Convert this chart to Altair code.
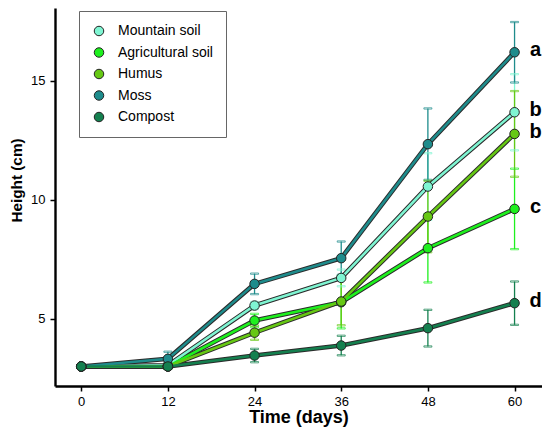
import altair as alt
import pandas as pd

days = [0, 12, 24, 36, 48, 60]
names = ["Mountain soil", "Agricultural soil", "Humus", "Moss", "Compost"]
colors = ["#7ff5d2", "#1ef01e", "#66c814", "#1e8c8c", "#14804f"]

mountain = [3.0, 3.05, 5.56, 6.72, 10.56, 13.68]
agri = [3.0, 3.0, 4.93, 5.70, 7.97, 9.62]
humus = [3.0, 3.0, 4.42, 5.73, 9.30, 12.77]
moss = [3.0, 3.32, 6.47, 7.55, 12.34, 16.2]
compost = [3.0, 3.0, 3.46, 3.88, 4.61, 5.66]

mountain_err = [0, 0.1, 0.15, 0.35, 1.4, 1.6]
agri_err = [0, 0.1, 0.28, 1.1, 1.44, 1.69]
humus_err = [0, 0.1, 0.3, 1.0, 1.5, 1.8]
moss_err = [0, 0.3, 0.43, 0.7, 1.5, 1.27]
compost_err = [0, 0.1, 0.28, 0.41, 0.77, 0.91]

letters = ["b", "c", "b", "a", "d"]

series = [mountain, agri, humus, moss, compost]
errs = [mountain_err, agri_err, humus_err, moss_err, compost_err]

rows = []
for i, (n, vals, es) in enumerate(zip(names, series, errs)):
    for d, v, e in zip(days, vals, es):
        rows.append({"series": n, "grp": n, "order": i, "day": d, "height": v,
                     "lo": v - e, "hi": v + e, "err": e})
df = pd.DataFrame(rows)

lab = pd.DataFrame({"series": names, "day": [days[-1]] * 5,
                    "height": [s[-1] for s in series], "letter": letters})

FONT = "Liberation Sans"

x = alt.X("day:Q",
          scale=alt.Scale(domain=[-3.63, 63.8], nice=False, zero=False),
          axis=alt.Axis(values=days, title="Time (days)", format="d",
                        titleFontSize=18, labelPadding=4, titlePadding=0))
y = alt.Y("height:Q",
          scale=alt.Scale(domain=[2.18, 18.06], nice=False, zero=False),
          axis=alt.Axis(values=[5, 10, 15], title="Height (cm)",
                        titleFontSize=15.3, titleX=-31, titleY=172, labelPadding=5))

# stroke scale uses the same mapping, listed in reverse so it is kept apart from the legend scale
stroke_enc = alt.Stroke("grp:N",
                        scale=alt.Scale(domain=names[::-1], range=colors[::-1]),
                        legend=None)

base = alt.Chart(df)
errd = base.transform_filter("datum.err > 0")

err_rule = errd.mark_rule(strokeWidth=1.3).encode(
    x=x, y=alt.Y("lo:Q"), y2="hi:Q", stroke=stroke_enc)
cap_lo = errd.mark_tick(orient="horizontal", size=8, thickness=1.3, filled=False).encode(
    x=x, y=alt.Y("lo:Q"), stroke=stroke_enc)
cap_hi = errd.mark_tick(orient="horizontal", size=8, thickness=1.3, filled=False).encode(
    x=x, y=alt.Y("hi:Q"), stroke=stroke_enc)

outline = base.mark_line(color="#2a2a2a", strokeWidth=4.6).encode(
    x=x, y=y, detail="grp:N", order="day:Q")
core = base.mark_line(strokeWidth=2.6).encode(
    x=x, y=y, stroke=stroke_enc, order="day:Q")

pts = base.mark_point(shape="circle", filled=True, size=90, stroke="#222222",
                      strokeWidth=1, opacity=1).encode(
    x=x, y=y,
    color=alt.Color("series:N", scale=alt.Scale(domain=names, range=colors),
                    legend=alt.Legend(title=None, orient="none", legendX=24, legendY=3,
                                      padding=13, strokeColor="#666666", fillColor="white",
                                      symbolType="circle", symbolSize=90,
                                      symbolStrokeColor="#222222", symbolStrokeWidth=1,
                                      labelFontSize=14, labelFont=FONT, labelColor="black",
                                      labelOffset=12, rowPadding=7.5)))

txt = alt.Chart(lab).mark_text(dx=21, dy=-2, fontSize=20, fontWeight="bold",
                               font=FONT, color="black", align="center",
                               baseline="middle").encode(
    x=x, y=y, text="letter:N")

chart = alt.layer(err_rule, cap_lo, cap_hi, outline, core, pts, txt).properties(
    width=487, height=378,
    autosize=alt.AutoSizeParams(type="none"),
    padding={"left": 47, "top": 0, "right": 0, "bottom": 41},
).configure_view(stroke=None).configure_axis(
    grid=False, domainColor="black", domainWidth=2.4, tickColor="black",
    tickWidth=1.5, tickSize=5, labelFont=FONT, labelFontSize=13,
    labelColor="black", titleFont=FONT, titleFontWeight="bold",
    titleColor="black",
)

chart.save("out.html", embed_options={"renderer": "svg", "actions": False})
